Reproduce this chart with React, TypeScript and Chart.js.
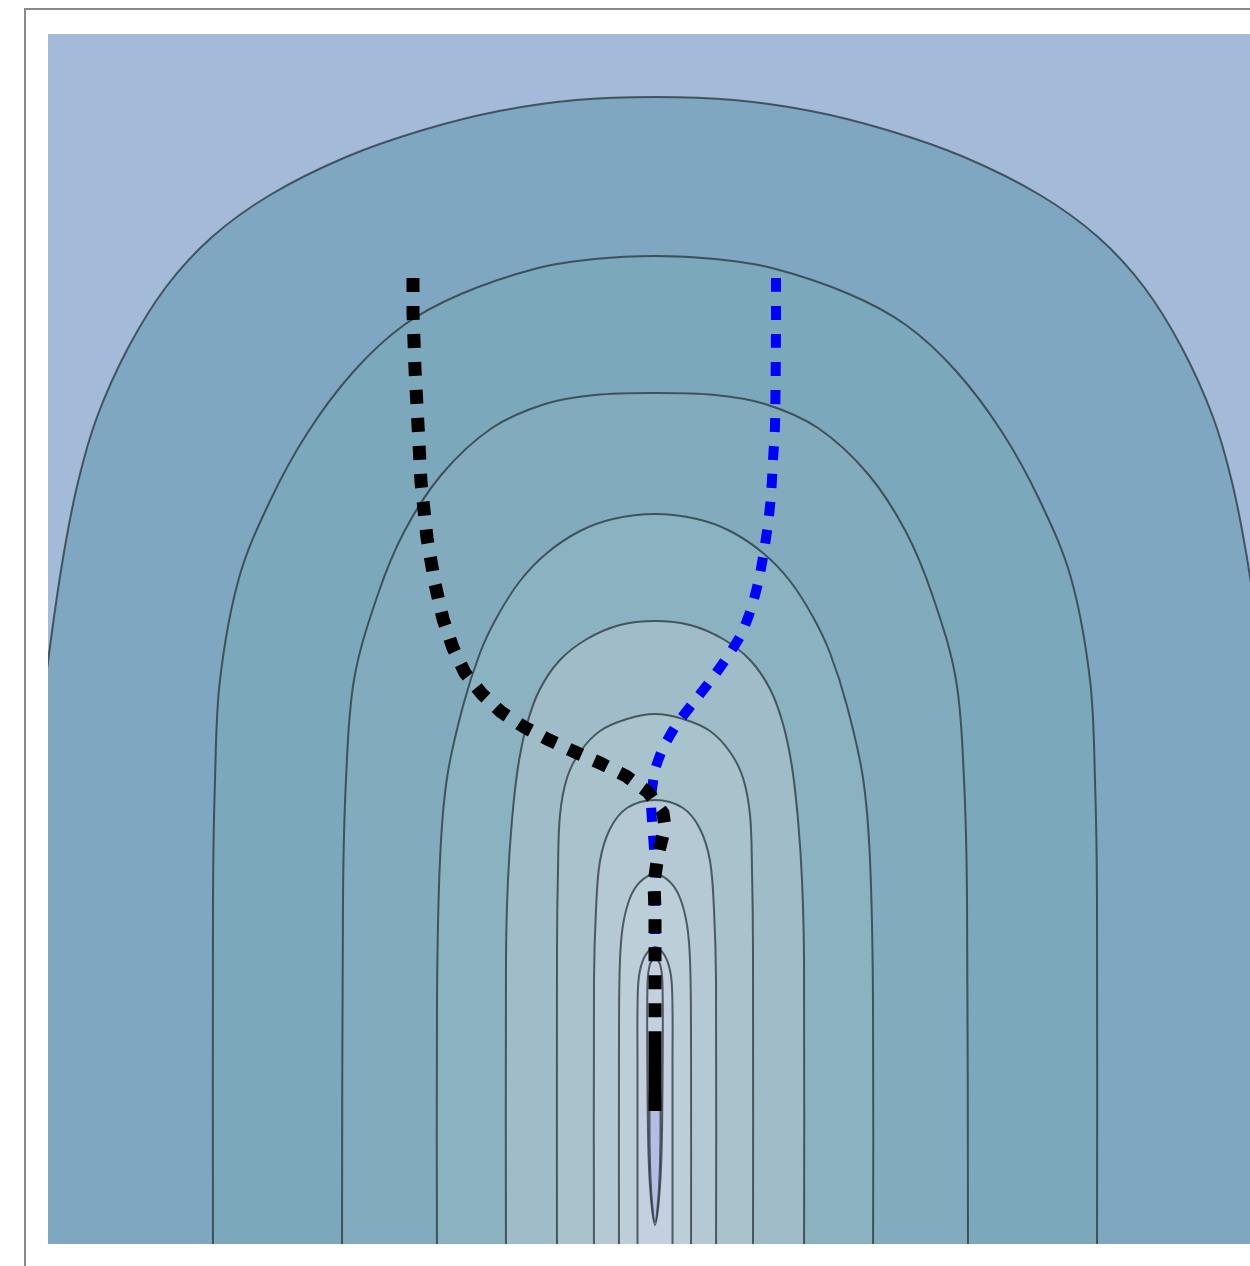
import React, { useEffect, useRef } from "react";
import { Chart, registerables } from "chart.js";

Chart.register(...registerables);

type Pt = [number, number];

// Plot window (data units)
const xMin = -6.07;
const xMax = 6.07;
const yMin = 0;
const yMax = 12.1;

// Contour levels, outermost first. Each path runs from the lower right,
// over the arch, down to the lower left.
const level1: Pt[] = [
  [6.2, -0.56], [6.19, 3.84], [6.15, 5.1], [6.06, 5.9], [5.92, 6.86], [5.77, 7.62], [5.58, 8.27],
  [5.27, 8.96], [4.89, 9.57], [4.43, 10.07], [3.85, 10.49], [3.09, 10.87], [2.32, 11.14], [1.56, 11.33],
  [0.79, 11.44], [0, 11.47], [-0.79, 11.44], [-1.56, 11.33], [-2.32, 11.14], [-3.09, 10.87], [-3.85, 10.49],
  [-4.43, 10.07], [-4.89, 9.57], [-5.27, 8.96], [-5.58, 8.27], [-5.77, 7.62], [-5.92, 6.86], [-6.06, 5.9],
  [-6.15, 5.1], [-6.19, 3.84], [-6.2, -0.56],
];
const level2: Pt[] = [
  [4.42, -0.3], [4.42, 3.44], [4.4, 4.64], [4.35, 5.64], [4.16, 6.66], [3.85, 7.43], [3.47, 8.12],
  [3.01, 8.73], [2.51, 9.19], [1.94, 9.5], [1.17, 9.76], [0.6, 9.85], [0, 9.88], [-0.6, 9.85],
  [-1.17, 9.76], [-1.94, 9.5], [-2.51, 9.19], [-3.01, 8.73], [-3.47, 8.12], [-3.85, 7.43], [-4.16, 6.66],
  [-4.35, 5.64], [-4.4, 4.64], [-4.42, 3.44], [-4.42, -0.3],
];
const level3: Pt[] = [
  [3.13, -0.3], [3.12, 3.44], [3.09, 4.64], [3.01, 5.64], [2.78, 6.47], [2.51, 7.12], [2.13, 7.7],
  [1.63, 8.16], [1.1, 8.4], [0.6, 8.49], [0, 8.51], [-0.6, 8.49], [-1.1, 8.4], [-1.63, 8.16],
  [-2.13, 7.7], [-2.51, 7.12], [-2.78, 6.47], [-3.01, 5.64], [-3.09, 4.64], [-3.12, 3.44], [-3.13, -0.3],
];
const level4: Pt[] = [
  [2.18, -0.3], [2.18, 2.44], [2.15, 3.84], [2.08, 4.66], [1.92, 5.38], [1.75, 5.91], [1.58, 6.27],
  [1.35, 6.63], [1.08, 6.91], [0.75, 7.13], [0.42, 7.25], [0, 7.3], [-0.42, 7.25], [-0.75, 7.13],
  [-1.08, 6.91], [-1.35, 6.63], [-1.58, 6.27], [-1.75, 5.91], [-1.92, 5.38], [-2.08, 4.66], [-2.15, 3.84],
  [-2.18, 2.44], [-2.18, -0.3],
];
const level5: Pt[] = [
  [1.49, -0.3], [1.49, 2.84], [1.47, 3.64], [1.43, 4.24], [1.37, 4.77], [1.28, 5.2], [1.15, 5.55],
  [0.95, 5.84], [0.68, 6.05], [0.35, 6.19], [0, 6.23], [-0.35, 6.19], [-0.68, 6.05], [-0.95, 5.84],
  [-1.15, 5.55], [-1.28, 5.2], [-1.37, 4.77], [-1.43, 4.24], [-1.47, 3.64], [-1.49, 2.84], [-1.49, -0.3],
];
const level6: Pt[] = [
  [0.98, -0.3], [0.98, 2.94], [0.97, 3.74], [0.95, 4.29], [0.88, 4.66], [0.75, 4.92], [0.55, 5.13],
  [0.28, 5.25], [0, 5.3], [-0.28, 5.25], [-0.55, 5.13], [-0.75, 4.92], [-0.88, 4.66], [-0.95, 4.29],
  [-0.97, 3.74], [-0.98, 2.94], [-0.98, -0.3],
];
const level7: Pt[] = [
  [0.61, -0.3], [0.61, 2.64], [0.59, 3.34], [0.55, 3.83], [0.45, 4.15], [0.28, 4.36], [0, 4.44],
  [-0.28, 4.36], [-0.45, 4.15], [-0.55, 3.83], [-0.59, 3.34], [-0.61, 2.64], [-0.61, -0.3],
];
const level8: Pt[] = [
  [0.36, -0.3], [0.36, 2.14], [0.35, 2.84], [0.32, 3.19], [0.25, 3.46], [0.15, 3.62], [0, 3.7],
  [-0.15, 3.62], [-0.25, 3.46], [-0.32, 3.19], [-0.35, 2.84], [-0.36, 2.14], [-0.36, -0.3],
];
const level9: Pt[] = [
  [0.175, -0.3], [0.175, 1.84], [0.175, 2.34], [0.16, 2.68], [0.1, 2.88], [0, 2.97],
  [-0.1, 2.88], [-0.16, 2.68], [-0.175, 2.34], [-0.175, 1.84], [-0.175, -0.3],
];
const level10: Pt[] = [
  [0, 2.87], [-0.05, 2.8], [-0.075, 2.6], [-0.075, 1.6], [-0.065, 0.9], [-0.04, 0.45], [0, 0.19],
  [0.04, 0.45], [0.065, 0.9], [0.075, 1.6], [0.075, 2.6], [0.05, 2.8], [0, 2.87],
];
const level11: Pt[] = [
  [0, 1.64], [-0.045, 1.56], [-0.055, 1.3], [-0.05, 0.8], [-0.03, 0.42], [0, 0.22],
  [0.03, 0.42], [0.05, 0.8], [0.055, 1.3], [0.045, 1.56], [0, 1.64],
];

// Band colours from the outside in (index 0 is the area beyond level 1)
const bandColors = [
  "#a3bad8", "#7fa7c1", "#7ba8bb", "#82acbd", "#8bb2c1", "#9fbcc8",
  "#a9c3cd", "#b4c9d4", "#bccfd9", "#c4d0df", "#c4d0e0", "#b4bde3",
];
const contourLineColor = "rgba(40,52,58,0.75)";

// Optimizer trajectories
const blackPath: Pt[] = [
  [-2.42, 9.66], [-2.42, 9.31], [-2.4, 8.75], [-2.37, 8.19], [-2.34, 7.62], [-2.28, 7.06], [-2.2, 6.6],
  [-2.12, 6.25], [-2.02, 5.96], [-1.9, 5.71], [-1.73, 5.5], [-1.54, 5.32], [-1.31, 5.17], [-1.06, 5.04],
  [-0.8, 4.92], [-0.55, 4.81], [-0.29, 4.68], [-0.07, 4.52], [0.08, 4.31], [0.1, 4.17], [0.03, 3.89],
  [-0.01, 3.61], [0, 3.32], [0, 2.84], [0, 2.14], [0, 1.31], [0, 2.06], [0, 1.33], [0, 2.02], [0, 1.35],
];
const bluePath: Pt[] = [
  [1.21, 9.66], [1.21, 9.14], [1.2, 8.18], [1.18, 7.84], [1.16, 7.48], [1.13, 7.2], [1.09, 6.93],
  [1.04, 6.65], [0.97, 6.38], [0.87, 6.11], [0.73, 5.88], [0.56, 5.64], [0.38, 5.41], [0.22, 5.2],
  [0.08, 4.96], [0, 4.74], [-0.04, 4.44], [-0.02, 4.09], [0, 3.79], [0, 2.96],
];

// Rectangle behind every level
const backdrop: Pt[] = [[6.4, -0.6], [6.4, 12.6], [-6.4, 12.6], [-6.4, -0.6]];

const toXY = (pts: Pt[]) => pts.map(([x, y]) => ({ x, y }));

export default function App() {
  const canvasRef = useRef<HTMLCanvasElement | null>(null);

  useEffect(() => {
    const canvas = canvasRef.current;
    if (!canvas) return;

    const levels = [level1, level2, level3, level4, level5, level6, level7, level8, level9, level10, level11];
    const levelSets = levels.map((pts, i) => ({
      data: toXY(pts),
      fill: "shape",
      backgroundColor: bandColors[i + 1],
      borderColor: contourLineColor,
      borderWidth: 2,
      pointRadius: 0,
      tension: 0.35,
    }));

    // Chart.js paints the last dataset first, so the list runs top-most to bottom-most.
    const datasets: any[] = [
      {
        data: toXY(blackPath),
        fill: false,
        borderColor: "#000000",
        borderWidth: 13,
        borderDash: [14, 14],
        pointRadius: 0,
        tension: 0,
      },
      {
        data: toXY(bluePath),
        fill: false,
        borderColor: "#0000ff",
        borderWidth: 10,
        borderDash: [14, 14],
        pointRadius: 0,
        tension: 0.2,
      },
      ...levelSets.reverse(),
      {
        data: toXY(backdrop),
        fill: "shape",
        backgroundColor: bandColors[0],
        borderWidth: 0,
        borderColor: "rgba(0,0,0,0)",
        pointRadius: 0,
        tension: 0,
      },
    ];

    const chart = new Chart(canvas, {
      type: "line",
      data: { datasets },
      options: {
        animation: false,
        responsive: false,
        maintainAspectRatio: false,
        events: [],
        layout: { padding: 0 },
        scales: {
          x: { type: "linear", min: xMin, max: xMax, display: false },
          y: { type: "linear", min: yMin, max: yMax, display: false },
        },
        elements: {
          line: { capBezierPoints: false, borderCapStyle: "butt", borderJoinStyle: "miter" },
          point: { radius: 0 },
        },
        plugins: {
          legend: { display: false },
          tooltip: { enabled: false },
        },
      } as any,
    });

    return () => chart.destroy();
  }, []);

  return (
    <div>
      <div
        style={{
          position: "fixed",
          left: 24,
          top: 8,
          width: 1600,
          height: 1600,
          borderLeft: "2px solid #8a8a8a",
          borderTop: "2px solid #8a8a8a",
          boxSizing: "border-box",
          pointerEvents: "none",
        }}
      />
      <canvas
        ref={canvasRef}
        width={1214}
        height={1210}
        style={{ position: "fixed", left: 48, top: 34, width: 1214, height: 1210, display: "block" }}
      />
    </div>
  );
}
